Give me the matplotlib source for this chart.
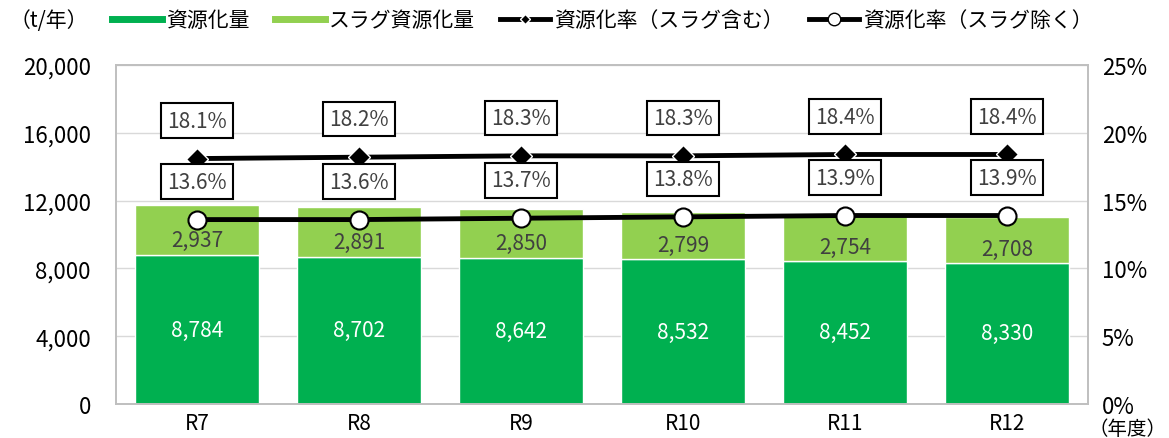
import numpy as np
import matplotlib.pyplot as plt
from matplotlib.lines import Line2D

plt.rcParams['font.family'] = ['Noto Sans CJK JP', 'DejaVu Sans']

years = ["R7", "R8", "R9", "R10", "R11", "R12"]
resource = [8784, 8702, 8642, 8532, 8452, 8330]
slag = [2937, 2891, 2850, 2799, 2754, 2708]
rate_with_slag = [18.1, 18.2, 18.3, 18.3, 18.4, 18.4]
rate_without_slag = [13.6, 13.6, 13.7, 13.8, 13.9, 13.9]

dark = "#00B050"
light = "#92D050"

fig = plt.figure(figsize=(11.69, 4.39), dpi=100)
ax = fig.add_axes([0.0992, 0.0774, 0.8315, 0.7723])
ax2 = ax.twinx()

x = np.arange(len(years))
ax.bar(x, resource, width=0.76, color=dark, edgecolor="white", linewidth=1, zorder=2)
ax.bar(x, slag, bottom=resource, width=0.76, color=light, edgecolor="white", linewidth=1, zorder=2)

for i in range(len(x)):
    ax.text(x[i], resource[i] / 2, f"{resource[i]:,}", ha="center", va="center",
            color="white", fontsize=15)
    ax.text(x[i], resource[i] + slag[i] * 0.3, f"{slag[i]:,}", ha="center", va="center",
            color="#404040", fontsize=15)

ax.set_ylim(0, 20000)
ax.set_yticks(np.arange(0, 20001, 4000))
ax.set_yticklabels([f"{v:,}" for v in range(0, 20001, 4000)], fontsize=16)
ax.set_xlim(-0.5, len(years) - 0.5)
ax.set_xticks(x)
ax.set_xticklabels(years, fontsize=15)
ax.grid(axis="y", color="#d9d9d9", linewidth=1, zorder=0)
ax.set_axisbelow(True)
ax.tick_params(axis="y", length=0, pad=18)
ax.tick_params(axis="x", length=0, pad=6)

ax2.plot(x, rate_with_slag, color="black", linewidth=3.5, marker="D", markersize=11,
         markerfacecolor="black", markeredgecolor="white", markeredgewidth=1, zorder=5)
ax2.plot(x, rate_without_slag, color="black", linewidth=3.5, marker="o", markersize=13,
         markerfacecolor="white", markeredgecolor="black", markeredgewidth=1.5, zorder=5)
box = dict(boxstyle="square,pad=0.3", facecolor="white", edgecolor="black", linewidth=1.5)
for i in range(len(x)):
    ax2.text(x[i], rate_with_slag[i] + 2.8, f"{rate_with_slag[i]:.1f}%", ha="center", va="center",
             fontsize=15, color="#404040", bbox=box, zorder=6)
    ax2.text(x[i], rate_without_slag[i] + 2.8, f"{rate_without_slag[i]:.1f}%", ha="center",
             va="center", fontsize=15, color="#404040", bbox=box, zorder=6)
ax2.set_ylim(0, 25)
ax2.set_yticks(np.arange(0, 26, 5))
ax2.set_yticklabels([f"{v}%" for v in range(0, 26, 5)], fontsize=16)
ax2.tick_params(length=0, pad=10)

for a in (ax, ax2):
    for s in a.spines.values():
        s.set_color("#bfbfbf")
        s.set_linewidth(1.2)

fig.text(0.008, 0.952, "（t/年）", fontsize=15, va="center", ha="left")
fig.text(0.998, 0.022, "（年度）", fontsize=14, va="center", ha="right")

handles = [
    Line2D([], [], color=dark, linewidth=5),
    Line2D([], [], color=light, linewidth=5),
    Line2D([], [], color="black", linewidth=3.5, marker="D", markersize=5,
           markerfacecolor="black", markeredgecolor="white"),
    Line2D([], [], color="black", linewidth=3.5, marker="o", markersize=9,
           markerfacecolor="white", markeredgecolor="black"),
]
labels = ["資源化量", "スラグ資源化量", "資源化率（スラグ含む）", "資源化率（スラグ除く）"]
fig.legend(handles, labels, loc="center left", bbox_to_anchor=(0.08, 0.952), ncol=4,
           frameon=False, fontsize=15, handlelength=2.4, handletextpad=0.2, columnspacing=1.2)

fig.savefig("out.png", dpi=100)
